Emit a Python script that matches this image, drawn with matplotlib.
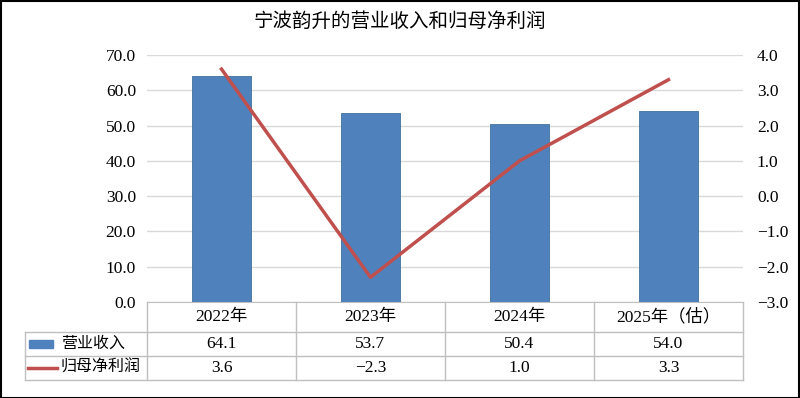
import matplotlib
matplotlib.use("Agg")
import matplotlib.pyplot as plt
from matplotlib.patches import Rectangle
from matplotlib.lines import Line2D

title = "宁波韵升的营业收入和归母净利润"
categories = ["2022年", "2023年", "2024年", "2025年（估）"]
revenue = [64.1, 53.7, 50.4, 54.0]
net_profit = [3.6, -2.3, 1.0, 3.3]
series_names = ["营业收入", "归母净利润"]
left_ticks = [0, 10, 20, 30, 40, 50, 60, 70]
right_ticks = [-3, -2, -1, 0, 1, 2, 3, 4]

FONT = ["Liberation Serif", "Noto Sans CJK SC"]
plt.rcParams["font.family"] = FONT

BAR = "#4F81BD"
LINE = "#C0504D"
GRID = "#D9D9D9"
TBL = "#BFBFBF"
FS = 12.5

def fmt(v):
    s = f"{v:.1f}"
    return s.replace("-", "\u2212")

W, H = 800, 398
fig = plt.figure(figsize=(W / 100, H / 100), dpi=100)

def fx(px):
    return px / W

def fy(py):
    return 1 - py / H

x0, x1 = 147, 743
ytop, ybot = 55, 302
ax = fig.add_axes([fx(x0), fy(ybot), fx(x1 - x0), (ybot - ytop) / H])
n = len(categories)
xs = list(range(n))
ax.bar(xs, revenue, width=0.4, color=BAR, edgecolor="#41719C", linewidth=0.6, zorder=3)
ax.set_xlim(-0.5, n - 0.5)
ax.set_ylim(0, 70)
ax.set_yticks(left_ticks)
ax.set_yticklabels([fmt(v) for v in left_ticks], fontsize=FS)
ax.yaxis.grid(True, color=GRID, linewidth=1, zorder=0)
ax.set_xticks([])
for s in ["top", "right", "left"]:
    ax.spines[s].set_visible(False)
ax.spines["bottom"].set_color(TBL)
ax.tick_params(axis="y", length=0, pad=8)

ax2 = ax.twinx()
ax2.plot(xs, net_profit, color=LINE, linewidth=2.5, zorder=4)
ax2.set_ylim(-3, 4)
ax2.set_yticks(right_ticks)
ax2.set_yticklabels([fmt(v) for v in right_ticks], fontsize=FS)
ax2.tick_params(axis="y", length=0, pad=10)
for s in ["top", "right", "left", "bottom"]:
    ax2.spines[s].set_visible(False)

fig.text(0.5, fy(22), title, ha="center", va="center", fontsize=14)

# data table
col_w = (x1 - x0) / n
row_y = [302, 332, 356, 380]
tx0 = 25
def hline(px_a, px_b, py):
    fig.add_artist(Line2D([fx(px_a), fx(px_b)], [fy(py), fy(py)], color=TBL, lw=1))
def vline(px, py_a, py_b):
    fig.add_artist(Line2D([fx(px), fx(px)], [fy(py_a), fy(py_b)], color=TBL, lw=1))

for py in row_y[1:]:
    hline(tx0, x1, py)
vline(tx0, row_y[1], row_y[3])
for i in range(n + 1):
    vline(x0 + i * col_w, row_y[0], row_y[3])

for i, c in enumerate(categories):
    cx = x0 + (i + 0.5) * col_w
    fig.text(fx(cx), fy((row_y[0] + row_y[1]) / 2), c, ha="center", va="center", fontsize=FS)
    fig.text(fx(cx), fy((row_y[1] + row_y[2]) / 2), fmt(revenue[i]), ha="center", va="center", fontsize=FS)
    fig.text(fx(cx), fy((row_y[2] + row_y[3]) / 2), fmt(net_profit[i]), ha="center", va="center", fontsize=FS)

# legend keys
ym1 = (row_y[1] + row_y[2]) / 2
ym2 = (row_y[2] + row_y[3]) / 2
fig.add_artist(Rectangle((fx(29), fy(ym1 + 4)), fx(24), 8 / H, color=BAR))
fig.add_artist(Line2D([fx(28), fx(57)], [fy(ym2), fy(ym2)], color=LINE, lw=2.5))
fig.text(fx(61), fy(ym1), series_names[0], ha="left", va="center", fontsize=11.5)
fig.text(fx(61), fy(ym2), series_names[1], ha="left", va="center", fontsize=11.5)

# outer frame
fig.add_artist(Rectangle((0.5 / W, 0.5 / H), 1 - 1.5 / W, 1 - 1.5 / H, fill=False, edgecolor="black", lw=1.5))

fig.savefig("out.png", dpi=100)
